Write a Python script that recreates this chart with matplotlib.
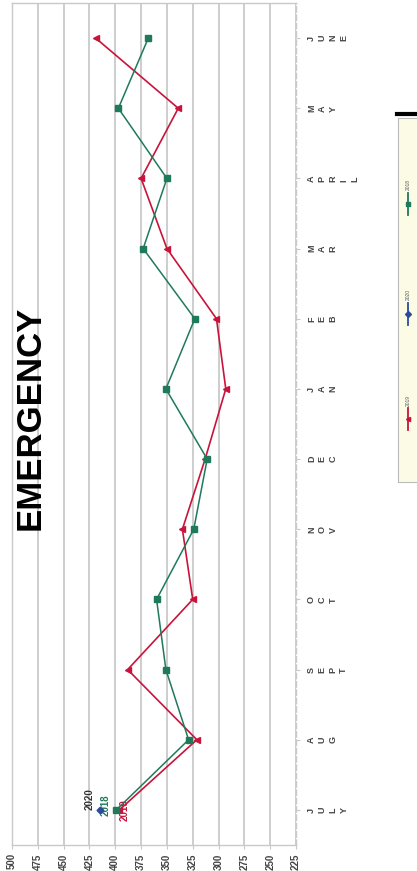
import matplotlib
matplotlib.use("Agg")
import matplotlib.pyplot as plt

plt.rcParams['font.family'] = ['Liberation Sans', 'DejaVu Sans']

# chart data (the chart is drawn turned on its side: values run along x)
months = ['JULY', 'AUG', 'SEPT', 'OCT', 'NOV', 'DEC', 'JAN', 'FEB', 'MAR', 'APRIL', 'MAY', 'JUNE']
vals_2018 = [399, 329, 351, 360, 324, 311, 351, 323, 373, 350, 397, 368]
vals_2019 = [396, 321, 388, 325, 335, 313, 293, 302, 350, 375, 339, 419]
vals_2020 = [415]
value_ticks = [500, 475, 450, 425, 400, 375, 350, 325, 300, 275, 250, 225]

red = '#c8143a'
green = '#1f7a5c'
blue = '#2b4c9b'
grid_gray = '#c9c9c9'

W, H = 417, 871
fig = plt.figure(figsize=(W / 100, H / 100), dpi=100)
ax = fig.add_axes([12 / W, 26 / H, 284 / W, 842 / H])

pos = list(range(len(months)))
ax.plot(vals_2019, pos, color=red, lw=1.2, marker='<', ms=5, zorder=3)
ax.plot(vals_2018, pos, color=green, lw=1.1, marker='s', ms=4.5, zorder=4)
ax.plot(vals_2020, pos[:len(vals_2020)], color=blue, lw=1.1, marker='D', ms=3.5, zorder=5)

# point labels at the first month
ax.annotate('2020', (vals_2020[0], 0), xytext=(-10, 11), textcoords='offset pixels',
            rotation=90, ha='center', va='center', fontsize=7, fontweight='bold', color='#333333')
ax.annotate('2018', (vals_2018[0], 0), xytext=(-11, 5), textcoords='offset pixels',
            rotation=90, ha='center', va='center', fontsize=7, fontweight='bold', color=green)
ax.annotate('2019', (vals_2019[0], 0), xytext=(5, 0), textcoords='offset pixels',
            rotation=90, ha='center', va='center', fontsize=7, fontweight='bold', color=red)

ax.set_xlim(500, 225)
ax.set_ylim(-0.5, len(months) - 0.5)
ax.set_xticks(value_ticks)
ax.set_xticklabels([str(v) for v in value_ticks], rotation=90, fontsize=7,
                   fontweight='bold', color='#444444')
ax.grid(axis='x', color=grid_gray, lw=1.3)
ax.set_axisbelow(True)

ax.yaxis.tick_right()
ax.set_yticks(pos)
ax.set_yticklabels(['\n'.join(m) for m in months], rotation=90, fontsize=6.5,
                   fontweight='bold', color='#444444', linespacing=1.25,
                   va='center', ha='left')
ax.tick_params(axis='y', length=3, color=grid_gray, pad=5)
ax.tick_params(axis='x', length=3, color=grid_gray, pad=3)
for s in ax.spines.values():
    s.set_color(grid_gray)
    s.set_linewidth(1.0)
ax.spines['right'].set_linestyle((0, (4, 2)))

fig.text(30 / W, 1 - 418 / H, 'EMERGENCY', rotation=90, ha='center', va='center',
         fontsize=25, fontweight='bold', color='black')

# legend box (cut off at the right edge, like the original)
lg = fig.add_axes([398 / W, 1 - 482 / H, 25 / W, 364 / H])
lg.set_facecolor('#fbfbe6')
lg.set_xlim(0, 25)
lg.set_ylim(364, 0)
lg.set_xticks([])
lg.set_yticks([])
for s in lg.spines.values():
    s.set_color('#bbbbbb')
fig.add_artist(plt.Line2D([397 / W, 1], [1 - 114 / H, 1 - 114 / H], color='black', lw=3))
legend_items = [('2018', green, 's', 75), ('2020', blue, 'D', 185), ('2019', red, '<', 290)]
for label, col, mk, y0 in legend_items:
    lg.text(10, y0 - 8, label, rotation=90, fontsize=3.5, ha='center', va='center', color='#555555')
    lg.plot([10, 10], [y0, y0 + 22], color=col, lw=1.3)
    lg.plot([10], [y0 + 11], color=col, marker=mk, ms=3)

fig.savefig('out.png', dpi=100)
